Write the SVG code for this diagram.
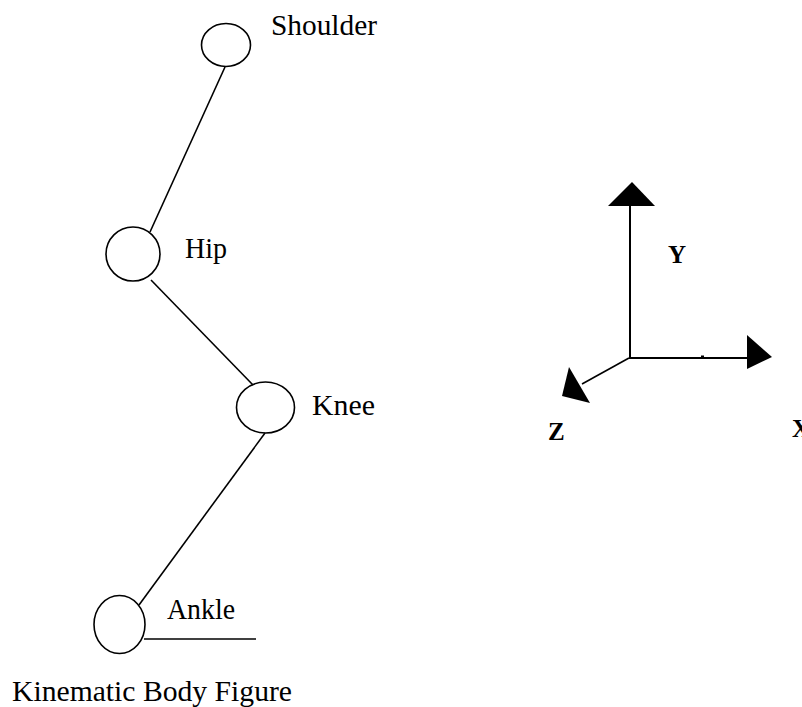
<svg xmlns="http://www.w3.org/2000/svg" width="802" height="707" viewBox="0 0 802 707">
<style>
.j{fill:none;stroke:#000;stroke-width:1.6}
.c{fill:none;stroke:#000;stroke-width:1.6}
.ax{stroke:#000;stroke-width:2;fill:none}
.hd{fill:#000;stroke:none}
.t{font-family:"Liberation Serif","Times New Roman",serif;font-size:29px;fill:#000}
.b{font-family:"Liberation Serif","Times New Roman",serif;font-size:25px;font-weight:bold;fill:#000}
</style>
<rect width="802" height="707" fill="#fff"/>
<g id="connectors">
<line class="c" x1="225" y1="67" x2="150" y2="232"/>
<line class="c" x1="151" y1="280" x2="253" y2="385"/>
<line class="c" x1="265" y1="433" x2="139" y2="605"/>
<line class="c" x1="144" y1="639" x2="256" y2="639"/>
</g>
<g id="shoulder">
<ellipse class="j" cx="226" cy="45" rx="24.5" ry="21.5"/>
<text class="t" x="271" y="35" textLength="106" lengthAdjust="spacingAndGlyphs">Shoulder</text>
</g>
<g id="hip">
<ellipse class="j" cx="133" cy="254" rx="27" ry="27"/>
<text class="t" x="185" y="258" textLength="42" lengthAdjust="spacingAndGlyphs">Hip</text>
</g>
<g id="knee">
<ellipse class="j" cx="265.5" cy="407.5" rx="29" ry="25.5"/>
<text class="t" x="312" y="415" textLength="63" lengthAdjust="spacingAndGlyphs">Knee</text>
</g>
<g id="ankle">
<ellipse class="j" cx="119.5" cy="624.5" rx="25.5" ry="29"/>
<text class="t" x="167" y="619" textLength="68" lengthAdjust="spacingAndGlyphs">Ankle</text>
</g>
<g id="title">
<text class="t" x="12" y="701" textLength="280" lengthAdjust="spacingAndGlyphs">Kinematic Body Figure</text>
</g>
<g id="axes">
<line class="ax" x1="630" y1="205" x2="630" y2="358"/>
<polygon class="hd" points="632,182 608,206 655,206"/>
<line class="ax" x1="629" y1="358" x2="748" y2="358"/>
<polygon class="hd" points="747,335 747,369 772,357"/>
<rect class="hd" x="701" y="355.5" width="3" height="2"/>
<line x1="629" y1="358" x2="582" y2="384" stroke="#000" stroke-width="1.6"/>
<polygon class="hd" points="569,367 562,396 590,403"/>
<text class="b" x="668" y="263">Y</text>
<text class="b" x="548" y="440">Z</text>
<text class="b" x="792" y="437">X</text>
</g>
</svg>
